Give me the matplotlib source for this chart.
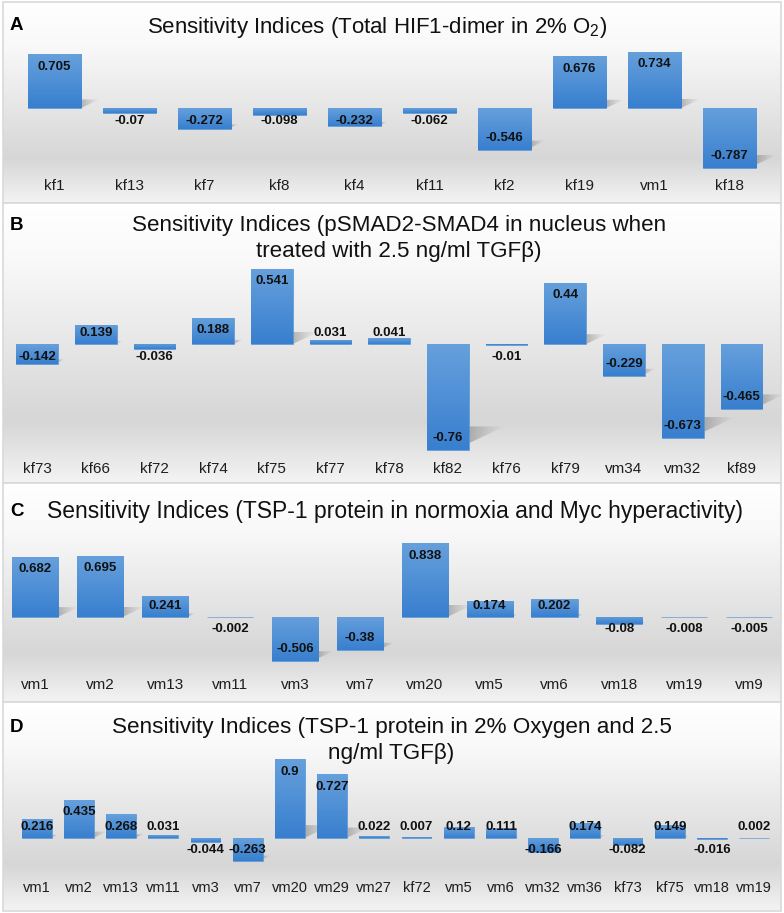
import numpy as np
import matplotlib
matplotlib.use('Agg')
import matplotlib.pyplot as plt
from matplotlib.patches import Polygon, Rectangle

plt.rcParams['font.family'] = ['Liberation Sans', 'DejaVu Sans']
plt.rcParams['mathtext.fontset'] = 'custom'
plt.rcParams['mathtext.rm'] = 'Liberation Sans'
plt.rcParams['mathtext.it'] = 'Liberation Sans:italic'
plt.rcParams['mathtext.bf'] = 'Liberation Sans:bold'

# ---------------- data ----------------
a_labels = ['kf1', 'kf13', 'kf7', 'kf8', 'kf4', 'kf11', 'kf2', 'kf19', 'vm1', 'kf18']
a_values = [0.705, -0.07, -0.272, -0.098, -0.232, -0.062, -0.546, 0.676, 0.734, -0.787]

b_labels = ['kf73', 'kf66', 'kf72', 'kf74', 'kf75', 'kf77', 'kf78', 'kf82', 'kf76',
            'kf79', 'vm34', 'vm32', 'kf89']
b_values = [-0.142, 0.139, -0.036, 0.188, 0.541, 0.031, 0.041, -0.76, -0.01,
            0.44, -0.229, -0.673, -0.465]

c_labels = ['vm1', 'vm2', 'vm13', 'vm11', 'vm3', 'vm7', 'vm20', 'vm5', 'vm6',
            'vm18', 'vm19', 'vm9']
c_values = [0.682, 0.695, 0.241, -0.002, -0.506, -0.38, 0.838, 0.174, 0.202,
            -0.08, -0.008, -0.005]

d_labels = ['vm1', 'vm2', 'vm13', 'vm11', 'vm3', 'vm7', 'vm20', 'vm29', 'vm27',
            'kf72', 'vm5', 'vm6', 'vm32', 'vm36', 'kf73', 'kf75', 'vm18', 'vm19']
d_values = [0.216, 0.435, 0.268, 0.031, -0.044, -0.263, 0.9, 0.727, 0.022,
            0.007, 0.12, 0.111, -0.166, 0.174, -0.082, 0.149, -0.016, 0.002]

a_title = ['Sensitivity Indices (Total HIF1-dimer in 2% O$_2$)']
b_title = ['Sensitivity Indices (pSMAD2-SMAD4 in nucleus when',
           'treated with 2.5 ng/ml TGF\u03b2)']
c_title = ['Sensitivity Indices (TSP-1 protein in normoxia and Myc hyperactivity)']
d_title = ['Sensitivity Indices (TSP-1 protein in 2% Oxygen and 2.5',
           'ng/ml TGF\u03b2)']

# ---------------- layout (pixels) ----------------
W, H = 784, 913
DPI = 100
panels = [
    dict(letter='A', labels=a_labels, values=a_values, title=a_title,
         top=2, bottom=203, zero=108, ppu=76.5, c0=54.5, sp=75.0, lab_y=186,
         title_y=[27], title_x=377, title_fs=16, letter_y=26, lab_fs=11, val_fs=9.5),
    dict(letter='B', labels=b_labels, values=b_values, title=b_title,
         top=203, bottom=483, zero=344, ppu=139.0, c0=37.0, sp=58.7, lab_y=469,
         title_y=[225, 251], title_x=399, title_fs=16.1, letter_y=226, lab_fs=11, val_fs=9.5),
    dict(letter='C', labels=c_labels, values=c_values, title=c_title,
         top=483, bottom=702, zero=616.7, ppu=87.6, c0=35.3, sp=64.9, lab_y=685,
         title_y=[511.5], title_x=394.5, title_fs=16.5, letter_y=512, lab_fs=11, val_fs=9.5),
    dict(letter='D', labels=d_labels, values=d_values, title=d_title,
         top=702, bottom=911, zero=837.7, ppu=87.0, c0=36.7, sp=42.2, lab_y=888,
         title_y=[728, 753], title_x=391.5, title_fs=16.2, letter_y=727, lab_fs=10.5, val_fs=9.5),
]
LEFT, RIGHT = 3, 781
BAR_FRAC = 0.71

fig = plt.figure(figsize=(W / DPI, H / DPI), dpi=DPI)
fig.patch.set_facecolor('white')


def fig_rect(x0, y0, x1, y1):
    return [x0 / W, 1 - y1 / H, (x1 - x0) / W, (y1 - y0) / H]


# background gradient (top -> bottom)
stops = [0.0, 0.22, 0.78, 1.0]
vals = [1.0, 0.975, 0.84, 0.955]
gy = np.linspace(0, 1, 256)
gv = np.interp(gy, stops, vals)
bg_img = np.repeat(gv[:, None, None], 3, axis=2)

bar_top = np.array([0x66, 0xa0, 0xdc]) / 255
bar_bot = np.array([0x38, 0x7f, 0xcf]) / 255
tb = np.linspace(0, 1, 64)[:, None]
bar_img = (bar_top[None, :] * (1 - tb) + bar_bot[None, :] * tb)[:, None, :]

for p in panels:
    # background axes
    bga = fig.add_axes(fig_rect(LEFT, p['top'], RIGHT, p['bottom']))
    bga.imshow(bg_img, extent=[0, 1, 0, 1], aspect='auto', interpolation='bilinear')
    bga.set_xlim(0, 1)
    bga.set_ylim(0, 1)
    bga.axis('off')
    bga.add_patch(Rectangle((0, 0), 1, 1, transform=bga.transAxes, fill=False,
                            ec='#d9d9d9', lw=1.2, clip_on=False))

    # bar axes (pixel-calibrated)
    ax = fig.add_axes(fig_rect(LEFT, p['top'], RIGHT, p['bottom']))
    ax.patch.set_alpha(0)
    ax.axis('off')
    ppu, sp, c0, zero = p['ppu'], p['sp'], p['c0'], p['zero']
    xlim = ((LEFT - c0) / sp, (RIGHT - c0) / sp)
    ylim = ((zero - p['bottom']) / ppu, (zero - p['top']) / ppu)

    vals_ = np.array(p['values'])
    x = np.arange(len(vals_))
    bars = ax.bar(x, vals_, width=BAR_FRAC, color=tuple(bar_bot), edgecolor='#5b9bd5',
                  linewidth=0.5, zorder=3)
    for xi, v, b in zip(x, vals_, bars):
        xl, xr = xi - BAR_FRAC / 2, xi + BAR_FRAC / 2
        y0, y1 = min(0, v), max(0, v)
        im = ax.imshow(bar_img, extent=[xl, xr, y0, y1], aspect='auto', zorder=3.5,
                       interpolation='bilinear')
        im.set_clip_path(b)
        # perspective shadow
        hp = abs(v) * ppu
        if hp > 4:
            dx = 0.34 * hp / sp
            dy = 0.16 * hp / ppu
            yb = 0.0 if v > 0 else v + 0.06 * hp / ppu
            poly = Polygon([(xl, yb), (xr, yb), (xr + dx, yb + dy), (xl + dx, yb + dy)],
                           closed=True, fc='none', ec='none', zorder=1)
            ax.add_patch(poly)
            sh = np.zeros((8, 64, 4))
            sh[..., :3] = 0.45
            sh[..., 3] = (np.linspace(0.55, 0.0, 64) ** 1.2)[None, :]
            im2 = ax.imshow(sh, extent=[xr - 0.02, xr + dx, yb, yb + dy], aspect='auto',
                            zorder=2, interpolation='bilinear')
            im2.set_clip_path(poly)
        # value labels (inside end, clamped near the axis)
        if v >= 0:
            yl = max(v - 12.5 / ppu, 11.0 / ppu)
        else:
            yl = min(v + 12.0 / ppu, -12.5 / ppu)
        ax.text(xi, yl, f'{v:g}', ha='center', va='center', fontsize=p['val_fs'],
                fontweight='bold', color='#111111', zorder=5)
    # category labels
    for xi, lab in zip(x, p['labels']):
        ax.text(xi, (zero - p['lab_y']) / ppu, lab, ha='center', va='center',
                fontsize=p['lab_fs'], color='#1e1e1e', zorder=5)
    ax.set_xlim(*xlim)
    ax.set_ylim(*ylim)

    # title and panel letter
    for ty, line in zip(p['title_y'], p['title']):
        fig.text(p['title_x'] / W, 1 - ty / H, line, ha='center', va='center',
                 fontsize=p['title_fs'], color='#111111')
    fig.text(10 / W, 1 - p['letter_y'] / H, p['letter'], ha='left', va='center',
             fontsize=13.5, fontweight='bold', color='#000000')

fig.savefig('out.png', dpi=DPI)
